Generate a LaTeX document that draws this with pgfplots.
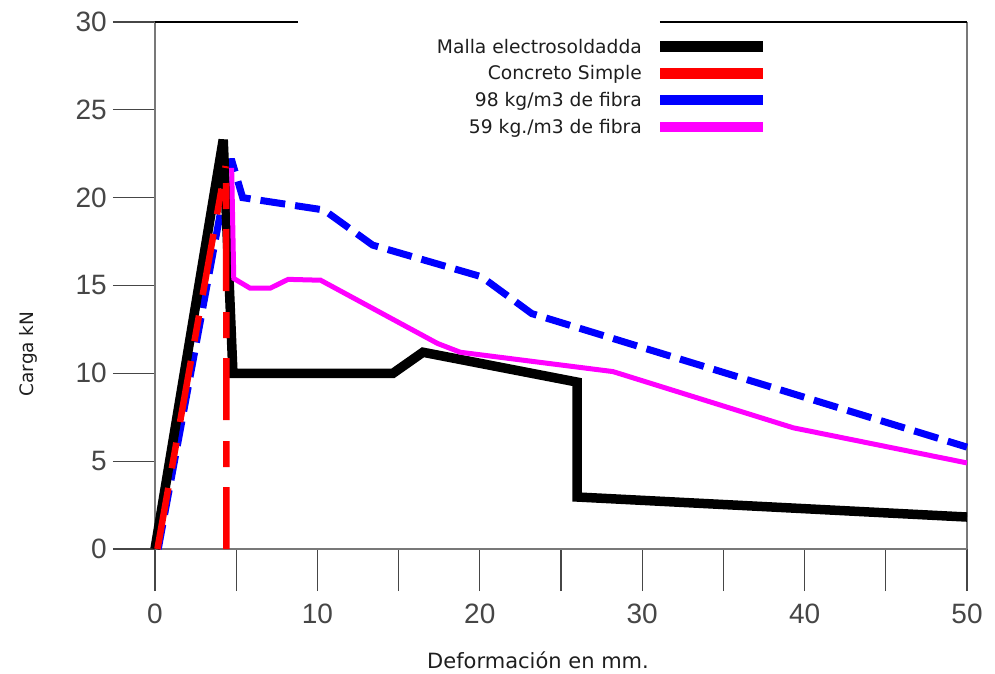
\documentclass[border=0pt]{standalone}
\usepackage{fontspec}
\setmainfont{DejaVu Sans}
\newfontfamily\tickfont{Liberation Sans}
\usepackage{pgfplots}
\pgfplotsset{compat=1.18}
\definecolor{axgray}{RGB}{120,120,120}
\definecolor{tickgray}{RGB}{70,70,70}
\definecolor{txtgray}{RGB}{30,30,30}
\definecolor{mag}{RGB}{255,0,255}
\definecolor{bl}{RGB}{0,0,255}
\definecolor{rd}{RGB}{255,0,0}
\begin{document}
\begin{tikzpicture}
\begin{axis}[
  scale only axis, width=812pt, height=527pt,
  xmin=0, xmax=50, ymin=0, ymax=30,
  clip=false,
  axis line style={draw=none},
  tick align=outside, tick pos=left,
  major tick length=42pt, minor tick length=42pt,
  xtick={0,10,...,50}, minor xtick={5,15,...,45},
  ytick={0,5,...,30},
  tick style={draw=tickgray, line width=1.3pt},
  /pgf/number format/assume math mode=true,
  ticklabel style={font=\tickfont\fontsize{28}{30}\selectfont, text=tickgray},
  xticklabel style={inner sep=0pt, anchor=north, yshift=-13pt},
  yticklabel style={inner sep=0pt, anchor=east, xshift=-6pt},
  xlabel={Deformación en mm.},
  xlabel style={at={(axis description cs:0.4717,-0.2258)}, anchor=base, font=\fontsize{21}{24}\selectfont, text=txtgray},
  ylabel={Carga kN},
  ylabel style={at={(axis description cs:-0.1502,0.370)}, anchor=base, font=\fontsize{18.5}{22}\selectfont, text=txtgray},
  legend style={at={(axis description cs:0.7562,0.9677)}, anchor=north east, draw=none, fill=none, inner sep=0pt,
    row sep=8.7pt, column sep=13pt, font=\fontsize{18.7}{22}\selectfont, text=txtgray,
    nodes={inner sep=0pt, text height=14pt, text depth=4pt}},
  legend plot pos=right,
  legend cell align=right,
  legend image code/.code={\draw[#1] (0pt,1.3pt) -- (103pt,1.3pt);},
]
\draw[axgray, line width=1.5pt] (rel axis cs:0,0) -- (rel axis cs:0,1);
\draw[axgray, line width=1.5pt] (rel axis cs:0,0) -- (rel axis cs:1,0);
\draw[axgray, line width=2pt] (rel axis cs:1,0) -- (rel axis cs:1,1);
\draw[black, line width=2pt] (rel axis cs:0,1) -- (rel axis cs:0.1761,1);
\draw[black, line width=2pt] (rel axis cs:0.6219,1) -- (rel axis cs:1,1);

\addlegendimage{black, line width=11pt, line cap=butt}
\addlegendentry{Malla electrosoldadda}
\addlegendimage{rd, line width=10.5pt, line cap=butt}
\addlegendentry{Concreto Simple}
\addlegendimage{bl, line width=10pt, line cap=butt}
\addlegendentry{98 kg/m3 de fibra}
\addlegendimage{mag, line width=10pt, line cap=butt}
\addlegendentry{59 kg./m3 de fibra}

% 98 kg/m3 de fibra
\addplot[forget plot, bl, line width=7pt, dash pattern=on 25pt off 10pt, miter limit=3] coordinates {
(0.2,0) (4.0,19.0) (4.7,22.2) (5.4,20.0) (10.4,19.3) (13.4,17.3) (20.1,15.5) (23.2,13.4) (50,5.8)};
% Malla electrosoldadda
\addplot[forget plot, black, line width=9.5pt, miter limit=3] coordinates {
(0,0) (4.2,23.3) (4.8,10.0) (14.65,10.0) (16.5,11.2) (26.0,9.5) (26.0,2.96) (50,1.82)};
% 59 kg./m3 de fibra
\addplot[forget plot, mag, line width=5pt, miter limit=3] coordinates {
(4.72,21.7) (4.85,15.4) (5.85,14.85) (7.1,14.85) (8.2,15.35) (10.2,15.3) (17.4,11.7) (18.8,11.2) (28.2,10.1) (39.3,6.9) (50,4.9)};
% Concreto Simple
\addplot[forget plot, rd, line width=6.5pt, dash pattern=on 62pt off 20pt on 26pt off 21pt] coordinates {
(0.15,0) (4.35,21.8)};
\addplot[forget plot, rd, line width=6.5pt, dash pattern=on 62pt off 20pt on 26pt off 21pt] coordinates {
(4.4,0) (4.38,21.8)};
\end{axis}
\pgfresetboundingbox
\path (current axis.south west) ++(-155pt,-124pt) rectangle ++(995pt,673pt);
\end{tikzpicture}
\end{document}
